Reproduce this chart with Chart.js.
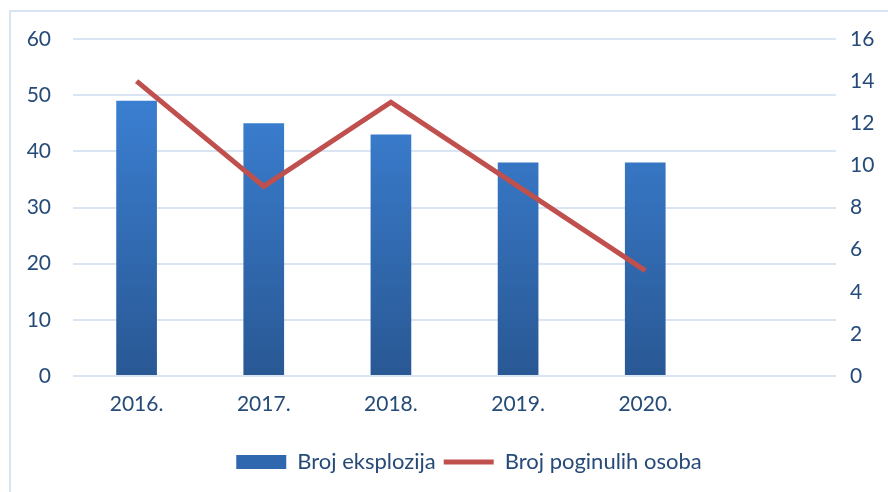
<!DOCTYPE html>
<html>
<head>
<meta charset="utf-8">
<script src="https://cdn.jsdelivr.net/npm/chart.js@4"></script>
<style>
  html, body { margin: 0; padding: 0; background: #fff; }
  #wrap { position: relative; width: 888px; height: 492px; }
  #frame { position: absolute; left: 9px; top: 10px; right: 0; bottom: 0;
           border-top: 2px solid #d7e4f3; border-left: 2px solid #d7e4f3; }
  canvas { position: absolute; left: 0; top: 0; }
</style>
</head>
<body>
<div id="wrap">
  <div id="frame"></div>
  <canvas id="chart" width="888" height="492"></canvas>
</div>
<script>
// data
const years = ['2016.', '2017.', '2018.', '2019.', '2020.', ''];
const explosions = [49, 45, 43, 38, 38];
const casualties = [14, 9, 13, 9, 5];
const leftTicks = [0, 60, 10];   // min, max, step
const rightTicks = [0, 16, 2];

const textColor = '#264b78';
const gridColor = '#d9e5f3';
const font = { family: 'Lato', size: 21 };

function barGradient(context) {
    const chart = context.chart;
    const area = chart.chartArea;
    if (!area) return '#3170c0';
    const g = chart.ctx.createLinearGradient(0, area.top + 60, 0, area.bottom);
    g.addColorStop(0, '#3b7fd2');
    g.addColorStop(1, '#295894');
    return g;
}

// the legend in the reference sits a little right of centre
const legendShift = {
    id: 'legendShift',
    afterLayout(chart) {
        chart.legend.left += 25;
        chart.legend.right += 25;
    }
};

new Chart(document.getElementById('chart'), {
    data: {
        labels: years,
        datasets: [{
            type: 'line',
            label: 'Broj poginulih osoba',
            data: casualties,
            yAxisID: 'y1',
            borderColor: '#c0504d',
            backgroundColor: '#c0504d',
            borderWidth: 5,
            pointRadius: 0,
            tension: 0,
            order: 0
        }, {
            type: 'bar',
            label: 'Broj eksplozija',
            data: explosions,
            yAxisID: 'y',
            backgroundColor: barGradient,
            barPercentage: 0.32,
            categoryPercentage: 1,
            order: 1
        }]
    },
    options: {
        responsive: false,
        animation: false,
        layout: { padding: { top: 39, bottom: 9 } },
        plugins: {
            tooltip: { enabled: false },
            legend: {
                position: 'bottom',
                labels: {
                    color: textColor,
                    font: { family: 'Lato', size: 22 },
                    usePointStyle: true,
                    pointStyleWidth: 50,
                    boxHeight: 14,
                    padding: 8,
                    generateLabels: () => [
                        { text: 'Broj eksplozija', fillStyle: '#3068b0', strokeStyle: '#3068b0',
                          lineWidth: 0, pointStyle: 'rect', fontColor: textColor, datasetIndex: 1 },
                        { text: 'Broj poginulih osoba', fillStyle: '#c0504d', strokeStyle: '#c0504d',
                          lineWidth: 5, pointStyle: 'line', fontColor: textColor, datasetIndex: 0 }
                    ]
                }
            }
        },
        scales: {
            x: {
                offset: true,
                grid: { display: false },
                border: { display: false },
                ticks: { color: textColor, font: font, padding: 8 },
                afterFit: s => { s.height = 67; }
            },
            y: {
                position: 'left',
                min: leftTicks[0],
                max: leftTicks[1],
                ticks: { stepSize: leftTicks[2], color: textColor, font: font, padding: 22 },
                grid: { color: gridColor, lineWidth: 2, drawTicks: false },
                border: { display: false },
                afterFit: s => { s.width = 73; }
            },
            y1: {
                position: 'right',
                min: rightTicks[0],
                max: rightTicks[1],
                ticks: { stepSize: rightTicks[2], color: textColor, font: font, padding: 14 },
                grid: { display: false, drawTicks: false },
                border: { display: false },
                afterFit: s => { s.width = 52; }
            }
        }
    },
    plugins: [legendShift]
});
</script>
</body>
</html>
